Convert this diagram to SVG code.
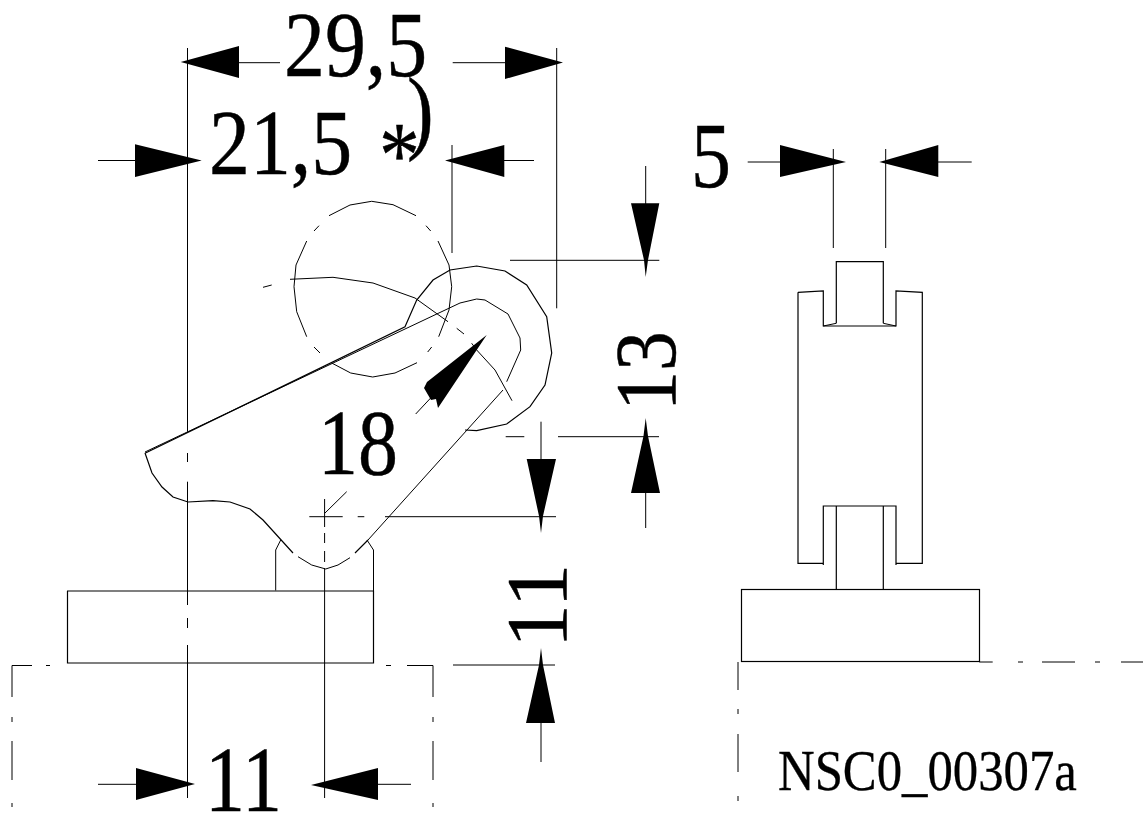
<svg xmlns="http://www.w3.org/2000/svg" width="1143" height="814" viewBox="0 0 1143 814">
<style>
.l{fill:none;stroke:#000;stroke-width:1}
.t{fill:none;stroke:#000;stroke-width:1.2}
.a{fill:#000;stroke:none}
text{font-family:"Liberation Serif","Times New Roman",serif;fill:#000;stroke:#000;stroke-width:.5}
.d{font-size:94px}
</style>
<rect width="1143" height="814" fill="#fff"/>
<g id="side-view">
<path class="t" d="M145 453.300L405 326.700L416.700 300L433 280L450 270L476.700 266L505 271L526.700 285L546.700 316.700L551.700 353L545 385L530 406.700L506.700 424L476.700 430.700L465 430"/>
<path class="l" d="M145 452L460 303L476.700 299L485 300L508 314L520 338L520.700 350L506.700 381.700M503 390L368 540M350 557.700L338 565L325.700 569L311.700 565L298 556.700"/>
<path class="t" d="M368 540L355 553M293 553L263 520L250 509L230 502L213 500.700L188 502L173 497L162 487L152 473L145 453"/>
<path class="l" d="M280.700 540L275.700 550V590.500M367 540L373.500 550V591"/>
<path class="t" d="M67 591H276M67.500 591V663H373.500V591H276"/>
</g>
<g id="ghost-circle">
<path class="l" d="M329 215.700L350 205L371.700 201.300L393 204.700L416 215.700M426 225.700L430.700 231M438 241L449 265L451.700 286.700L449 310L438.700 336.700M431.700 347L427.700 352M417 362.700L395 373L372.700 377L350.700 373L331.700 363M320 353L314 347M306.700 336.700L296.700 311.700L294 286.700L296 265L306.700 241M314 231L319 225.700"/>
<path class="l" d="M263 287.300L271.700 285M290 279.300L333 277.300L373 283L415 298L448 321.700M456.700 328.300L464 334M471.700 343.300L476.700 350L495 370L512 400.700"/>
</g>
<g id="front-view">
<rect class="t" x="741.500" y="589.500" width="238" height="72"/>
<path class="t" d="M836.300 323.300V261.700H883.300V323.300M798 292.300L823.300 291V326H896V291L922.300 292.300V563.300H896V565M896 563.300V506H823.300V565M823.300 563.300H798V292.300M836.300 506V589.500M883.300 506V589.500"/>
<path class="l" d="M823.300 326L836.300 323.300M896 326L883.300 323.300"/>
</g>
<g id="connectors">
<path class="l" d="M187.500 48V431.700M187.500 453V462M187.500 481.700V605M187.500 618V628M187.500 645V798M324.600 499V527M324.600 533V543M324.600 551V562M324.600 568V798M556.700 48V308.300M452 145V253M833.300 149V248M885.700 149V248"/>
<path class="l" d="M187 62.700H280M452.700 62.700H510M98 160.500H140M500 160.500H534M747.700 162H785M935 162H971.700M510 260.300H659.300M505.700 436.700H524.300M558 436.700H659M309.300 516.700H342.700M357.700 516.700H364.300M385 516.700H556M453 665H555M98 784.300H140M375 784.300H411"/>
<path class="l" d="M645.700 166V210M645.700 485V528M541 421.700V465M541 715V762"/>
<path class="l" d="M12 697V665.500H32M46 665.500H50M386 665.500H391M407 665.500H433V697M12 717V722M12 741V780M12 803V807M433 717V722M433 741V780M433 803V807M979.300 662H992.700M1018 662H1023M1042 662H1075M1095 662H1100M1121 662H1143M738 662V690M738 709V714M738 734V772M738 796V801"/>
<path class="l" d="M415.700 414L440 388M325 513L346.700 491.700"/>
<path class="a" d="M180.700 62L239 46V78ZM563 62.500L505 46.700V79ZM201.700 160.500L135 144.300V177ZM445 160.500L504.300 145V177ZM846 162L780 145V177ZM879.300 162L938.300 145V177Z"/>
<path class="a" d="M631 203.300H659.300L648 260L645.700 277L644 260ZM645.700 418L648 436L660 493H631L643.500 436ZM526.700 459H556L543 516L541 533L539 516ZM541 648L543 665L555 723H526L539 665ZM195 784L136 768V800ZM311 785L378 768V800Z"/>
<path class="a" d="M486.700 335L438 408L436 399L431 400L424 388L427 382Z"/>
</g>
<g id="labels">
<text class="d" transform="translate(284 76) scale(.87 1)">29,5</text>
<text class="d" transform="translate(209 174) scale(.87 1)">21,5</text>
<text class="d" transform="translate(379 186) scale(.87 1)">*</text>
<text class="d" transform="translate(407 142) scale(.85 1)">)</text>
<text class="d" transform="translate(318 474) scale(.85 1)">18</text>
<text class="d" transform="translate(691 187) scale(.85 1)">5</text>
<text class="d" transform="translate(205 811) scale(.85 1)">11</text>
<text transform="translate(675 411) rotate(-90) scale(.93 1)" font-size="86">13</text>
<text transform="translate(566 648) rotate(-90) scale(1.02 1)" font-size="86">11</text>
<text transform="translate(778 790) scale(.875 1)" font-size="58" style="stroke-width:.3">NSC0_00307a</text>
</g>
</svg>
